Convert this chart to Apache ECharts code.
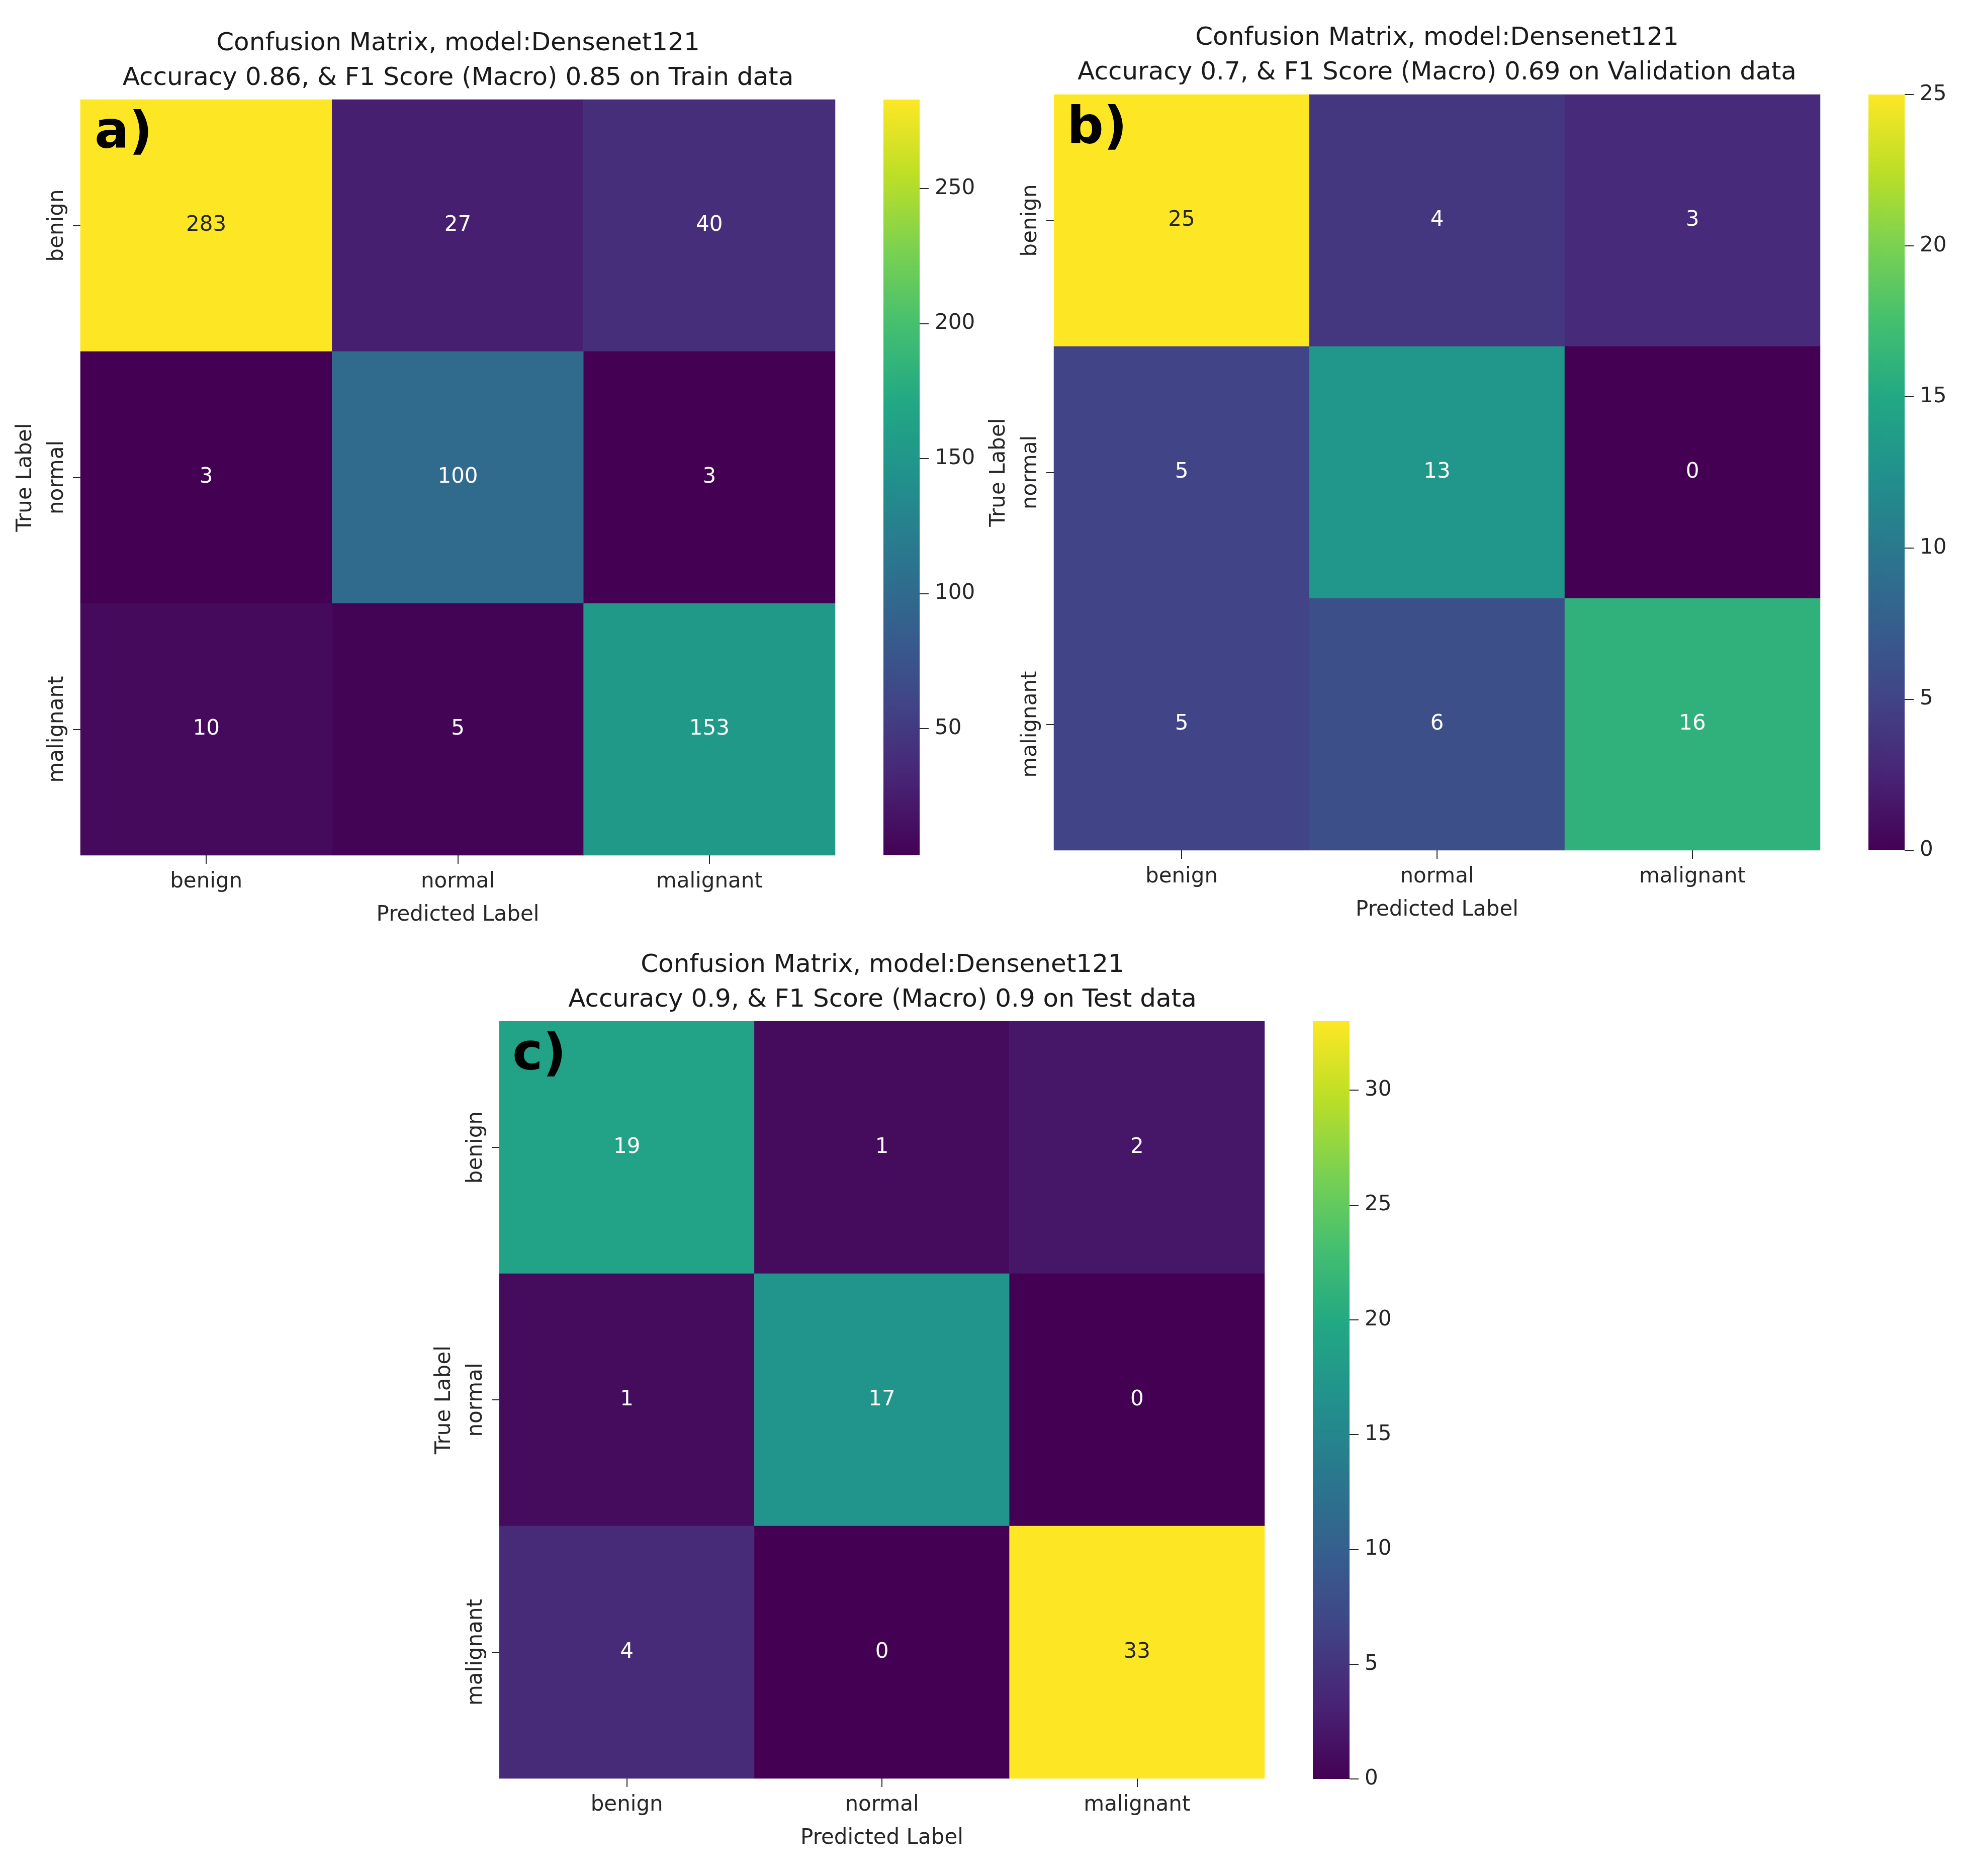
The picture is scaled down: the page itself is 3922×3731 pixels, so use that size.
<!DOCTYPE html>
<html>
<head>
<meta charset="utf-8">
<title>Confusion matrices - Densenet121</title>
<script src="https://cdn.jsdelivr.net/npm/echarts@6/dist/echarts.min.js"></script>
<style>
  html, body { margin: 0; padding: 0; background: #fff; }
  #chart { width: 3922px; height: 3731px; }
</style>
</head>
<body>
<div id="chart"></div>
<script>
// class labels (rows = true label, cols = predicted label)
const classes = ['benign', 'normal', 'malignant']

// confusion matrices, row by row
const trainMatrix = [
  [283, 27, 40],
  [3, 100, 3],
  [10, 5, 153]
]
const valMatrix = [
  [25, 4, 3],
  [5, 13, 0],
  [5, 6, 16]
]
const testMatrix = [
  [19, 1, 2],
  [1, 17, 0],
  [4, 0, 33]
]

// colorbar ticks
const trainTicks = [50, 100, 150, 200, 250]
const valTicks = [0, 5, 10, 15, 20, 25]
const testTicks = [0, 5, 10, 15, 20, 25, 30]

const titles = [
  'Confusion Matrix, model:Densenet121\nAccuracy 0.86, & F1 Score (Macro) 0.85 on Train data',
  'Confusion Matrix, model:Densenet121\nAccuracy 0.7, & F1 Score (Macro) 0.69 on Validation data',
  'Confusion Matrix, model:Densenet121\nAccuracy 0.9, & F1 Score (Macro) 0.9 on Test data'
]
const panelTags = ['a)', 'b)', 'c)']

// viridis
const viridis = ['#440154', '#482475', '#414487', '#355f8d', '#2a788e', '#21918c',
  '#22a884', '#44bf70', '#7ad151', '#bddf26', '#fde725']

const FONT = 'DejaVu Sans'

// layout of each panel: heatmap box + colorbar box (pixels)
const panels = [
  { m: trainMatrix, ticks: trainTicks, grid: { left: 160, top: 198, width: 1501, height: 1503 },
    bar: { left: 1757, top: 198, width: 72, height: 1503 }, titleX: 911, titleY: 53, tagX: 188, tagY: 216 },
  { m: valMatrix, ticks: valTicks, grid: { left: 2096, top: 188, width: 1524, height: 1503 },
    bar: { left: 3716, top: 188, width: 72, height: 1503 }, titleX: 2858, titleY: 42, tagX: 2122, tagY: 206 },
  { m: testMatrix, ticks: testTicks, grid: { left: 993, top: 2031, width: 1522, height: 1506 },
    bar: { left: 2611, top: 2031, width: 73, height: 1507 }, titleX: 1755, titleY: 1886, tagX: 1019, tagY: 2049 }
]

// seaborn scales the colormap to the data min / max
function range(m) {
  const flat = m.flat()
  return [Math.min(...flat), Math.max(...flat)]
}

function toCells(m) {
  const [lo, hi] = range(m)
  const cells = []
  m.forEach((row, r) => {
    row.forEach((v, c) => {
      const t = (v - lo) / (hi - lo)
      cells.push({
        value: [c, r, v],
        label: { color: t > 0.72 ? '#262626' : '#ffffff' }
      })
    })
  })
  return cells
}

const chart = echarts.init(document.getElementById('chart'))

const option = {
  backgroundColor: '#ffffff',
  animation: false,
  textStyle: { fontFamily: FONT },
  title: [],
  grid: [],
  xAxis: [],
  yAxis: [],
  visualMap: [],
  series: []
}

panels.forEach((p, i) => {
  const [lo, hi] = range(p.m)

  option.title.push({
    text: titles[i],
    left: p.titleX,
    top: p.titleY,
    textAlign: 'center',
    padding: 0,
    textStyle: { fontFamily: FONT, fontSize: 50, fontWeight: 'normal', color: '#1a1a1a', lineHeight: 69 }
  })
  option.title.push({
    text: panelTags[i],
    left: p.tagX,
    top: p.tagY,
    padding: 0,
    z: 10,
    textStyle: { fontFamily: FONT, fontSize: 102, fontWeight: 'bold', color: '#000000' }
  })

  // heatmap grid
  option.grid.push(Object.assign({ containLabel: false }, p.grid))
  option.xAxis.push({
    type: 'category',
    gridIndex: 2 * i,
    data: classes,
    position: 'bottom',
    name: 'Predicted Label',
    nameLocation: 'middle',
    nameGap: 98,
    nameTextStyle: { fontFamily: FONT, fontSize: 42, color: '#262626' },
    axisLine: { show: false },
    axisTick: { show: true, alignWithLabel: true, length: 17, lineStyle: { color: '#262626', width: 2 } },
    axisLabel: { fontFamily: FONT, fontSize: 42, color: '#262626', margin: 32 },
    splitLine: { show: false }
  })
  option.yAxis.push({
    type: 'category',
    gridIndex: 2 * i,
    data: classes,
    inverse: true,
    name: 'True Label',
    nameLocation: 'middle',
    nameRotate: 90,
    nameGap: 88,
    nameTextStyle: { fontFamily: FONT, fontSize: 42, color: '#262626' },
    axisLine: { show: false },
    axisTick: { show: true, alignWithLabel: true, length: 15, lineStyle: { color: '#262626', width: 2 } },
    axisLabel: { fontFamily: FONT, fontSize: 42, color: '#262626', rotate: 90, margin: 25 },
    splitLine: { show: false }
  })

  // colorbar grid
  option.grid.push(Object.assign({ containLabel: false }, p.bar))
  option.xAxis.push({
    type: 'category',
    gridIndex: 2 * i + 1,
    data: [''],
    show: false
  })
  option.yAxis.push({
    type: 'value',
    gridIndex: 2 * i + 1,
    position: 'right',
    min: lo,
    max: hi,
    startValue: lo,
    axisLine: { show: false },
    splitLine: { show: false },
    axisTick: { show: true, length: 18, customValues: p.ticks, lineStyle: { color: '#262626', width: 2 } },
    axisLabel: { fontFamily: FONT, fontSize: 42, color: '#262626', margin: 30, customValues: p.ticks }
  })

  option.visualMap.push({
    show: false,
    type: 'continuous',
    seriesIndex: 2 * i,
    dimension: 2,
    min: lo,
    max: hi,
    inRange: { color: viridis }
  })

  option.series.push({
    type: 'heatmap',
    xAxisIndex: 2 * i,
    yAxisIndex: 2 * i,
    data: toCells(p.m),
    itemStyle: { borderWidth: 0 },
    label: { show: true, fontFamily: FONT, fontSize: 42 },
    emphasis: { disabled: true }
  })
  option.series.push({
    type: 'bar',
    xAxisIndex: 2 * i + 1,
    yAxisIndex: 2 * i + 1,
    data: [hi],
    barWidth: '100%',
    clip: true,
    silent: true,
    itemStyle: {
      color: new echarts.graphic.LinearGradient(0, 0, 0, 1,
        viridis.slice().reverse().map((c, k) => ({ offset: k / (viridis.length - 1), color: c })))
    }
  })
})

chart.setOption(option)
</script>
</body>
</html>
